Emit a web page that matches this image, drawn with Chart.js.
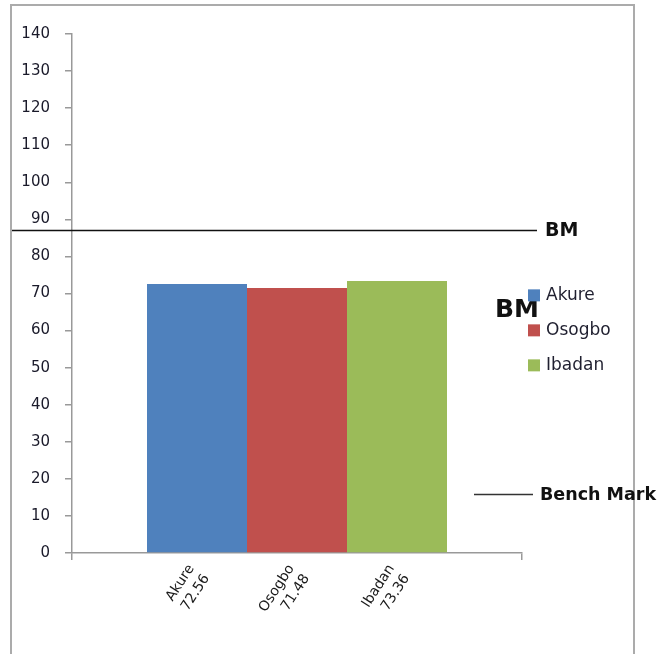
<!DOCTYPE html>
<html>
<head>
<meta charset="utf-8">
<script src="https://cdn.jsdelivr.net/npm/chart.js@4/dist/chart.umd.min.js"></script>
<style>
html,body{margin:0;padding:0;background:#fff;overflow:hidden;}
canvas{display:block;}
</style>
</head>
<body>
<canvas id="c" width="659" height="654"></canvas>
<script>
const categories = ['Akure', 'Osogbo', 'Ibadan'];
const values = [72.56, 71.48, 73.36];
const colors = ['#4F81BD', '#C0504D', '#9BBB59'];
const yMin = 0, yMax = 140, yStep = 10;
const benchmarkValue = 87;
const benchLegendValue = 16;
const bigBMValue = 65.5;

const datasets = categories.map((c, i) => ({
  label: c,
  data: [values[i]],
  backgroundColor: colors[i],
  borderWidth: 0
}));

const overlay = {
  id: 'overlay',
  afterDraw(chart) {
    const ctx = chart.ctx;
    const y = chart.scales.y;
    const area = chart.chartArea;
    ctx.save();
    // outer frame
    ctx.strokeStyle = '#ababab';
    ctx.lineWidth = 2;
    ctx.beginPath();
    ctx.moveTo(11, 660);
    ctx.lineTo(11, 5);
    ctx.lineTo(634, 5);
    ctx.lineTo(634, 660);
    ctx.stroke();

    // BM line
    const by = Math.round(y.getPixelForValue(benchmarkValue)) + 0.5;
    ctx.strokeStyle = '#111';
    ctx.lineWidth = 1.5;
    ctx.beginPath();
    ctx.moveTo(12, by);
    ctx.lineTo(area.right + 15, by);
    ctx.stroke();
    ctx.fillStyle = '#111';
    ctx.font = 'bold 19px "DejaVu Sans"';
    ctx.textBaseline = 'middle';
    ctx.textAlign = 'left';
    ctx.fillText('BM', area.right + 23, by + 1);

    // big BM
    ctx.font = 'bold 25px "DejaVu Sans"';
    ctx.fillText('BM', area.right - 27, y.getPixelForValue(bigBMValue));

    // Bench Mark
    const bmy = Math.round(y.getPixelForValue(benchLegendValue)) + 0.5;
    ctx.strokeStyle = '#333';
    ctx.lineWidth = 1.5;
    ctx.beginPath();
    ctx.moveTo(area.right - 48, bmy);
    ctx.lineTo(area.right + 11, bmy);
    ctx.stroke();
    ctx.font = 'bold 17.5px "DejaVu Sans"';
    ctx.fillText('Bench Mark', area.right + 18, bmy + 1);

    // legend
    const legendTop = y.getPixelForValue(69.5);
    ctx.font = '17px "DejaVu Sans"';
    categories.forEach((c, i) => {
      const cy = legendTop + i * 35;
      ctx.fillStyle = colors[i];
      ctx.fillRect(area.right + 6, cy - 6, 12, 12);
      ctx.fillStyle = '#1f1f2f';
      ctx.fillText(c, area.right + 24, cy);
    });

    // rotated category labels
    ctx.font = '14px "DejaVu Sans"';
    ctx.fillStyle = '#1a1a1a';
    ctx.textAlign = 'right';
    ctx.textBaseline = 'middle';
    categories.forEach((c, i) => {
      const bar = chart.getDatasetMeta(i).data[0];
      ctx.save();
      ctx.translate(bar.x + 2, area.bottom + 18);
      ctx.rotate(-57 * Math.PI / 180);
      ctx.fillText(c, 0, -9);
      ctx.fillText(values[i].toFixed(2), 0, 9);
      ctx.restore();
    });
    ctx.restore();
  }
};

new Chart(document.getElementById('c'), {
  type: 'bar',
  data: { labels: [''], datasets },
  options: {
    responsive: false,
    animation: false,
    devicePixelRatio: 1,
    layout: { padding: { left: 0, top: 34, right: 137, bottom: 0 } },
    datasets: { bar: { categoryPercentage: 300 / 450, barPercentage: 1 } },
    plugins: { legend: { display: false }, tooltip: { enabled: false } },
    scales: {
      x: {
        offset: true,
        grid: { offset: true, drawOnChartArea: false, tickLength: 7, color: '#999', lineWidth: 1.5 },
        border: { color: '#999', width: 1.5 },
        ticks: { display: false },
        afterFit(s) { s.height = 101; }
      },
      y: {
        min: yMin, max: yMax,
        grid: { drawOnChartArea: false, tickLength: 7, color: '#999', lineWidth: 1.5 },
        border: { color: '#999', width: 1.5 },
        ticks: { stepSize: yStep, color: '#1a1a2a', padding: 15, font: { family: 'DejaVu Sans', size: 15 } },
        afterFit(s) { s.width = 72; }
      }
    }
  },
  plugins: [overlay]
});
</script>
</body>
</html>
